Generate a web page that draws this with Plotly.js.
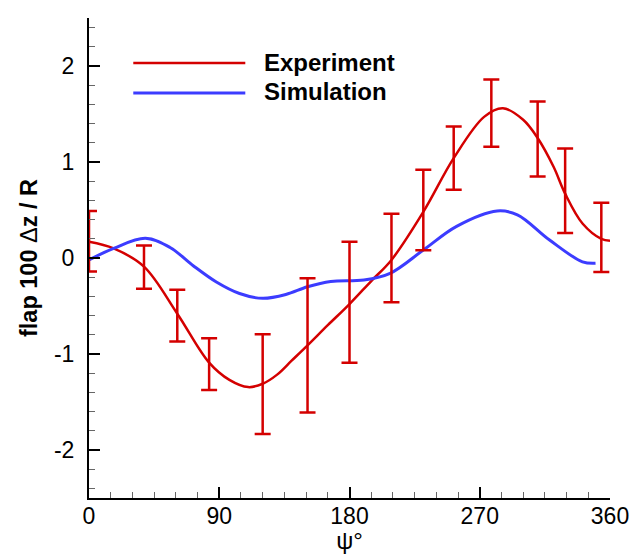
<!DOCTYPE html>
<html>
<head>
<meta charset="utf-8">
<script src="https://cdn.plot.ly/plotly-3.0.1.min.js"></script>
<style>html,body{margin:0;padding:0;background:#fff;}</style>
</head>
<body>
<div id="chart" style="width:635px;height:554px;"></div>
<script>
// ---- data ----
var seriesNames = ["Experiment", "Simulation"];

// Experiment curve (fit line)
var expCurveX = [0, 17, 38, 61, 83, 97, 110, 120, 130, 140, 151, 165, 180, 195, 209, 231, 252, 273, 286, 300, 310, 321, 329, 341, 354, 360];
var expCurveY = [0.17, 0.10, -0.09, -0.58, -1.09, -1.27, -1.345, -1.31, -1.215, -1.07, -0.91, -0.70, -0.48, -0.24, -0.02, 0.48, 1.04, 1.47, 1.56, 1.44, 1.25, 0.95, 0.67, 0.36, 0.20, 0.18];

// Experiment data points with error bars
var expX   = [0, 38, 61, 83, 120, 151, 180, 209, 231, 252, 278, 310, 329, 354];
var expY   = [0.175, -0.095, -0.60, -1.105, -1.314, -0.91, -0.46, 0.0, 0.50, 1.04, 1.51, 1.24, 0.70, 0.215];
var expErr = [0.315, 0.225, 0.27, 0.27, 0.52, 0.70, 0.63, 0.46, 0.42, 0.33, 0.35, 0.39, 0.44, 0.36];

// Simulation curve
var simX = [0, 17, 39, 56, 72, 88, 104, 120, 136, 151, 167, 190, 208, 231, 254, 282, 296, 318, 341, 350];
var simY = [-0.02, 0.10, 0.205, 0.11, -0.08, -0.25, -0.37, -0.42, -0.38, -0.30, -0.245, -0.23, -0.16, 0.083, 0.33, 0.49, 0.45, 0.19, -0.04, -0.055];

var xTickVals = [0, 90, 180, 270, 360];
var xTickText = ["0", "90", "180", "270", "360"];
var yTickVals = [-2, -1, 0, 1, 2];
var yTickText = ["-2", "-1", "0", "1", "2"];

var red = "#d40000";
var blue = "#3c3cff";
var font = "Liberation Sans, Arial, Helvetica, sans-serif";

var traces = [
  {
    x: expCurveX, y: expCurveY, name: seriesNames[0], type: "scatter", mode: "lines",
    line: {color: red, width: 2.5, shape: "spline", smoothing: 1}, showlegend: false, hoverinfo: "skip"
  },
  {
    x: simX, y: simY, name: seriesNames[1], type: "scatter", mode: "lines",
    line: {color: blue, width: 3, shape: "spline", smoothing: 1}, showlegend: false, hoverinfo: "skip"
  },
  {
    x: expX, y: expY, name: seriesNames[0] + " data", type: "scatter", mode: "markers",
    marker: {size: 1, color: "rgba(0,0,0,0)"},
    error_y: {type: "data", array: expErr, visible: true, color: red, thickness: 2.5, width: 8},
    showlegend: false, hoverinfo: "skip"
  }
];

var layout = {
  width: 635, height: 554,
  margin: {l: 89, r: 25, t: 18, b: 56, pad: 0},
  paper_bgcolor: "#fff", plot_bgcolor: "#fff",
  font: {family: font, color: "#000", size: 23},
  showlegend: false,
  xaxis: {
    range: [0, 360], tickmode: "array", tickvals: xTickVals, ticktext: xTickText,
    ticks: "inside", ticklen: 11, tickwidth: 2, tickcolor: "#000",
    showline: true, linewidth: 2, linecolor: "#000", mirror: false,
    showgrid: false, zeroline: false, ticklabelstandoff: -4,
    tickfont: {family: font, size: 23, color: "#000"},
    minor: {dtick: 15, tick0: 0, ticks: "inside", ticklen: 6, tickwidth: 1, tickcolor: "#666", showgrid: false},
    title: {text: "ψ°", font: {family: font, size: 24, color: "#000"}, standoff: 4}
  },
  yaxis: {
    range: [-2.5, 2.5], tickmode: "array", tickvals: yTickVals, ticktext: yTickText,
    ticks: "inside", ticklen: 11, tickwidth: 2, tickcolor: "#000",
    showline: true, linewidth: 2, linecolor: "#000", mirror: false,
    showgrid: false, zeroline: false, ticklabelstandoff: 8,
    tickfont: {family: font, size: 23, color: "#000"},
    minor: {dtick: 0.2, tick0: 0, ticks: "inside", ticklen: 6, tickwidth: 1, tickcolor: "#666", showgrid: false},
    title: {text: "<b>flap 100 </b>Δ<b>z / R</b>", font: {family: font, size: 23.5, color: "#000"}, standoff: 10}
  },
  shapes: [
    {type: "line", xref: "paper", yref: "paper", x0: 0.085, x1: 0.30, y0: 0.906, y1: 0.906, line: {color: red, width: 2.5}},
    {type: "line", xref: "paper", yref: "paper", x0: 0.085, x1: 0.30, y0: 0.844, y1: 0.844, line: {color: blue, width: 3}}
  ],
  annotations: [
    {xref: "paper", yref: "paper", x: 0.333, y: 0.908, xanchor: "left", yanchor: "middle", showarrow: false,
     text: "<b>" + seriesNames[0] + "</b>", font: {family: font, size: 24, color: "#000"}},
    {xref: "paper", yref: "paper", x: 0.333, y: 0.846, xanchor: "left", yanchor: "middle", showarrow: false,
     text: "<b>" + seriesNames[1] + "</b>", font: {family: font, size: 24, color: "#000"}}
  ]
};

Plotly.newPlot("chart", traces, layout, {staticPlot: true, displayModeBar: false});
</script>
</body>
</html>
